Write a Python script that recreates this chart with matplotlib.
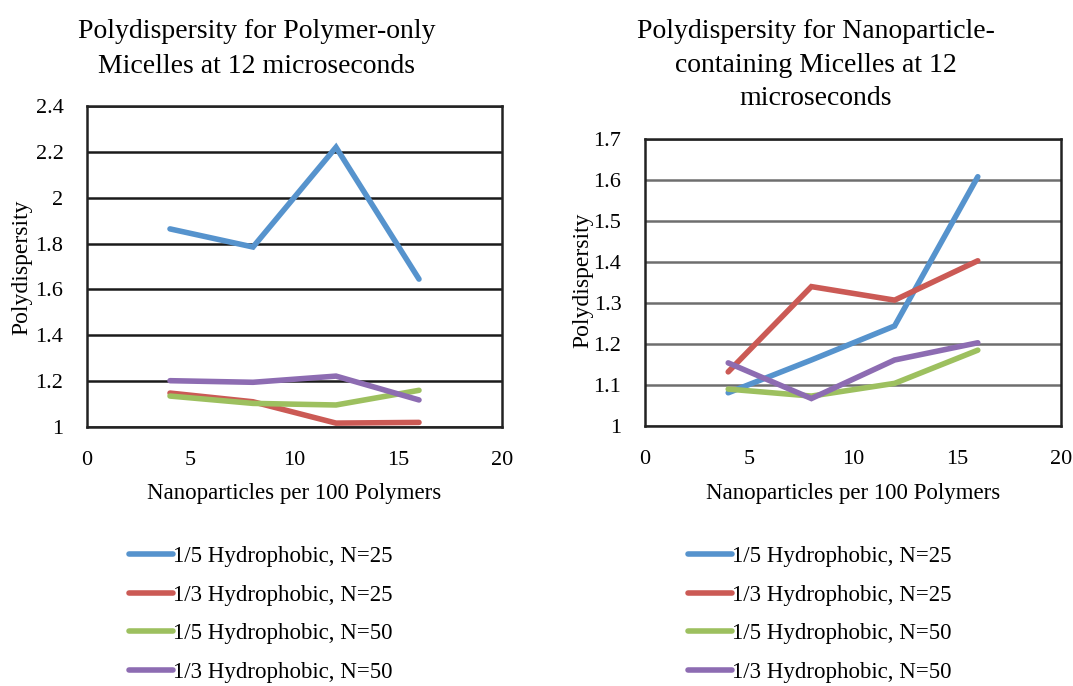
import matplotlib
matplotlib.use('Agg')
import matplotlib.pyplot as plt

plt.rcParams['font.family'] = ['Liberation Serif', 'DejaVu Serif']

# nanoparticles per 100 polymers
nano_counts = [4, 8, 12, 16]

series_names = ['1/5 Hydrophobic, N=25', '1/3 Hydrophobic, N=25',
                '1/5 Hydrophobic, N=50', '1/3 Hydrophobic, N=50']

# polydispersity, polymer-only micelles
polymer_only = [
    [1.864, 1.785, 2.22, 1.645],
    [1.148, 1.11, 1.017, 1.02],
    [1.135, 1.103, 1.096, 1.16],
    [1.202, 1.195, 1.222, 1.118],
]

# polydispersity, nanoparticle-containing micelles
nano_containing = [
    [1.081, 1.161, 1.244, 1.608],
    [1.132, 1.340, 1.307, 1.403],
    [1.090, 1.073, 1.104, 1.185],
    [1.154, 1.067, 1.161, 1.203],
]

left_yticks = [1, 1.2, 1.4, 1.6, 1.8, 2, 2.2, 2.4]
right_yticks = [1, 1.1, 1.2, 1.3, 1.4, 1.5, 1.6, 1.7]
xticks = [0, 5, 10, 15, 20]

colors = ['#5693CD', '#CB5A55', '#9DC05F', '#8D6CB2']

W, H = 1073, 686
fig = plt.figure(figsize=(W / 100, H / 100), dpi=100)


def px_axes(x0, y0, x1, y1):
    return fig.add_axes([x0 / W, 1 - y1 / H, (x1 - x0) / W, (y1 - y0) / H])


def draw_panel(ax, data, yticks, grid_color):
    for vals, c, name in zip(data, colors, series_names):
        ax.plot(nano_counts, vals, color=c, lw=4, label=name,
                solid_capstyle='round', solid_joinstyle='miter', zorder=3)
    ax.set_xlim(0, 20)
    ax.set_ylim(yticks[0], yticks[-1])
    ax.set_xticks(xticks)
    ax.set_yticks(yticks)
    ax.set_yticklabels([('%g' % v) for v in yticks])
    ax.tick_params(length=0, labelsize=16, pad=17)
    ax.tick_params(axis='x', pad=17)
    ax.yaxis.grid(True, color=grid_color, lw=1.8)
    ax.set_axisbelow(True)
    for s in ax.spines.values():
        s.set_linewidth(1.8)
        s.set_color('#222222')
    ax.set_xlabel('Nanoparticles per 100 Polymers', fontsize=16.5, labelpad=10)


ax1 = px_axes(87, 106, 502, 427)
draw_panel(ax1, polymer_only, left_yticks, '#1a1a1a')
ax2 = px_axes(645, 139, 1061, 426)
draw_panel(ax2, nano_containing, right_yticks, '#6e6e6e')

fig.text(22 / W, 1 - 267 / H, 'Polydispersity', rotation=90, fontsize=17,
         ha='center', va='center')
fig.text(583 / W, 1 - 280 / H, 'Polydispersity', rotation=90, fontsize=17,
         ha='center', va='center')

fig.text(257 / W, 1 - 49 / H, 'Polydispersity for Polymer-only\nMicelles at 12 microseconds',
         fontsize=20, ha='center', va='center', linespacing=1.5)
fig.text(816 / W, 1 - 65 / H, 'Polydispersity for Nanoparticle-\ncontaining Micelles at 12\nmicroseconds',
         fontsize=20, ha='center', va='center', linespacing=1.45)

for ax, x0 in [(ax1, 120), (ax2, 679)]:
    ax.legend(loc='upper left', bbox_to_anchor=(x0 / W, 1 - 537 / H),
              bbox_transform=fig.transFigure, frameon=False, fontsize=16.5,
              handlelength=1.9, handletextpad=0.0, labelspacing=0.76,
              borderaxespad=0)

fig.savefig('out.png', dpi=100)
